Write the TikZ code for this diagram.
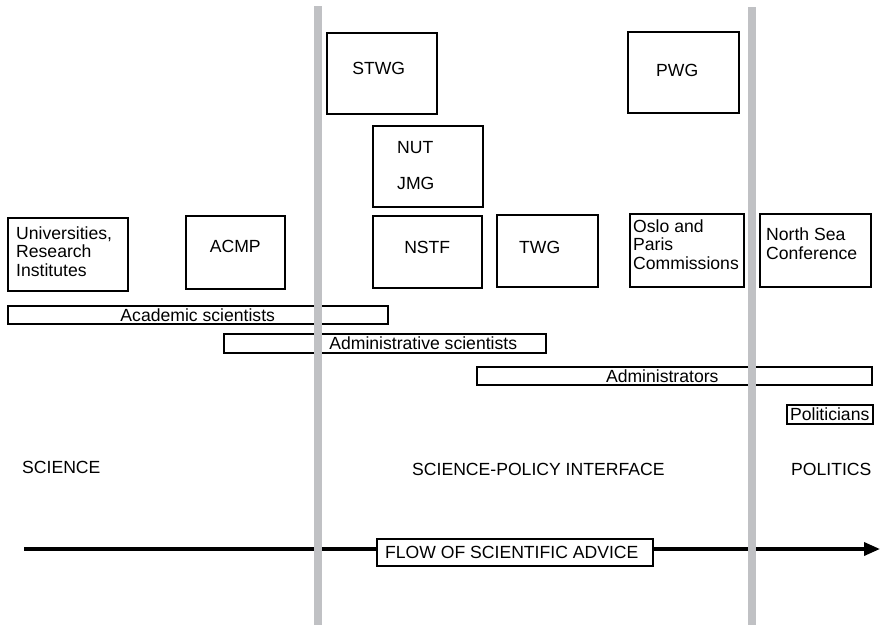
\documentclass[tikz,border=0pt]{standalone}
\usepackage{fontspec}
\setmainfont{Liberation Sans}
\usetikzlibrary{arrows.meta}
\definecolor{divider}{RGB}{192,193,196}
\begin{document}
\begin{tikzpicture}[x=1pt,y=-1pt,
  every node/.style={font=\fontsize{17.6}{18.5}\selectfont},
  frame/.style={draw, line width=1.5pt, fill=white, inner sep=0pt, anchor=north west},
  body/.style={frame, text depth=#1},
  band/.style={frame, minimum height=18},
  % multi-line captions are placed by the baseline of their last line
  caption/.style={inner sep=0pt, anchor=base west, align=left},
  divline/.style={draw=divider, line width=8.5pt},
  flowline/.style={line width=3.5pt, -{Triangle[length=16pt,width=13pt]}}
]
\useasboundingbox (0,0) rectangle (881,625);

% flow of advice
\coordinate (start) at (24,549);
\coordinate (tip) at (880,549);
\draw[flowline] (start) -- (tip);
\node[frame, minimum width=276, minimum height=27] (flow) at (376,538)
  {FLOW OF SCIENTIFIC ADVICE\hspace*{6pt}};

% bodies
\node[frame, minimum width=120, minimum height=73] (univ) at (7,217) {};
\node[caption] (univtxt) at (16,276) {Universities,\\Research\\Institutes};
\node[body=11pt, minimum width=99, minimum height=73] (acmp) at (185,215) {ACMP};
\node[body=9pt, minimum width=110, minimum height=81] (stwg) at (326,32) {STWG\hspace*{6pt}};
\node[frame, minimum width=110, minimum height=81] (nutjmg) at (372,125) {};
\node[caption] (nutjmgtxt) at (397,189) {NUT\\[17.5pt]JMG};
\node[body=9pt, minimum width=109, minimum height=72] (nstf) at (372,215) {NSTF};
\node[body=7pt, minimum width=101, minimum height=72] (twg) at (496,214) {TWG\hspace*{15pt}};
\node[body=3pt, minimum width=111, minimum height=81] (pwg) at (627,31) {PWG\hspace*{12pt}};
\node[frame, minimum width=114, minimum height=73] (oslo) at (629,213) {};
\node[caption] (oslotxt) at (633,269) {Oslo and\\Paris\\Commissions};
\node[frame, minimum width=111, minimum height=73] (nsc) at (759,213) {};
\node[caption] (nsctxt) at (766,259) {North Sea\\Conference};

% actors
\node[band, minimum width=380] (acad) at (7,305) {Academic scientists};
\node[band, minimum width=322, minimum height=19] (admsci) at (223,333)
  {\hspace*{77pt}Administrative scientists};
\node[band, minimum width=395] (admins) at (476,366) {Administrators\hspace*{24pt}};
\node[band, minimum width=86, minimum height=19] (pol) at (786,404) {Politicians};

% domains
\node[caption] (science) at (22,473) {SCIENCE};
\node[caption] (interface) at (412,475) {SCIENCE-POLICY INTERFACE};
\node[caption] (politics) at (791,475) {POLITICS};

% boundaries between the domains
\coordinate (b1top) at (318,6);
\coordinate (b1bot) at (318,625);
\coordinate (b2top) at (752,7);
\coordinate (b2bot) at (752,625);
\draw[divline] (b1top) -- (b1bot);
\draw[divline] (b2top) -- (b2bot);
\end{tikzpicture}
\end{document}
